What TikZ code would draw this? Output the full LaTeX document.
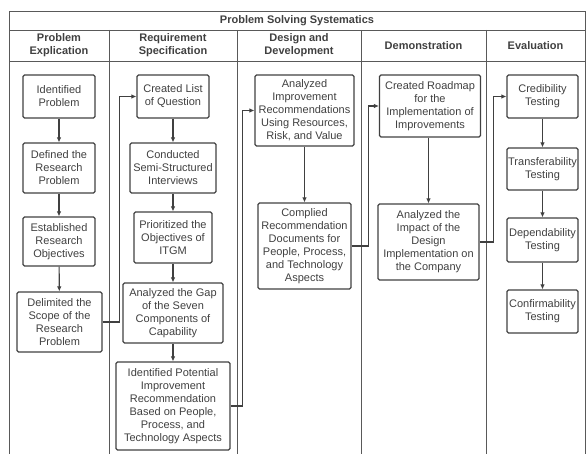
\documentclass[tikz,border=0pt]{standalone}
\usepackage{fontspec}
\setmainfont{Liberation Sans}
\usetikzlibrary{arrows.meta}
\begin{document}
\begin{tikzpicture}[
    x=1pt, y=-1pt,
    grid/.style = {draw=black!65, line width=0.9pt},
    head/.style = {align=center, text=black!75, font=\fontsize{11}{13}\selectfont\bfseries},
    box/.style = {draw=black!75, line width=1.1pt, rounded corners=1.5pt, align=center, inner sep=0pt, text=black!75, font=\fontsize{11}{13}\selectfont},
    arr/.style = {draw=black!75, line width=1.1pt, -{Latex[length=5pt,width=4.5pt]}}
  ]
  \useasboundingbox (0,0) rectangle (587,454);
  % table frame
  \draw[grid] (9,454) -- (9,11) -- (585,11) -- (585,454);
  \draw[grid] (9,30) -- (585,30);
  \draw[grid] (9,61) -- (585,61);
  \foreach \cx in {109,237,361,486}
    \draw[grid] (\cx,30) -- (\cx,454);
  % headers
  \node[head] (title) at (297,20.5) {Problem Solving Systematics};
  \node[head] (hexp) at (59,45.5) {Problem\\Explication};
  \node[head] (hreq) at (173,45.5) {Requirement\\Specification};
  \node[head] (hdes) at (299,45.5) {Design and\\Development};
  \node[head] (hdem) at (423.5,45.5) {Demonstration};
  \node[head] (heva) at (535.5,45.5) {Evaluation};
  % problem explication
  \node[box, minimum width=72pt, minimum height=43pt] (idp) at (59,96.5) {Identified\\Problem};
  \node[box, minimum width=72pt, minimum height=50pt] (def) at (59,168) {Defined the\\Research\\Problem};
  \node[box, minimum width=72pt, minimum height=49pt] (est) at (59,241.5) {Established\\Research\\Objectives};
  \node[box, minimum width=85pt, minimum height=60pt] (del) at (59.5,322) {Delimited the\\Scope of the\\Research\\Problem};
  % requirement specification
  \node[box, minimum width=72pt, minimum height=43pt] (lst) at (173,96.5) {Created List\\of Question};
  \node[box, minimum width=86pt, minimum height=50pt] (con) at (173,168) {Conducted\\Semi-Structured\\Interviews};
  \node[box, minimum width=78pt, minimum height=51pt] (pri) at (173,237.5) {Prioritized the\\Objectives of\\ITGM};
  \node[box, minimum width=100pt, minimum height=60pt] (gap) at (173,313) {Analyzed the Gap\\of the Seven\\Components of\\Capability};
  \node[box, minimum width=114pt, minimum height=88pt] (pot) at (173,406) {Identified Potential\\Improvement\\Recommendation\\Based on People,\\Process, and\\Technology Aspects};
  % design and development
  \node[box, minimum width=99pt, minimum height=71pt] (ana) at (304.5,110.5) {Analyzed\\Improvement\\Recommendations\\Using Resources,\\Risk, and Value};
  \node[box, minimum width=93pt, minimum height=86pt] (cmp) at (304.5,246) {Complied\\Recommendation\\Documents for\\People, Process,\\and Technology\\Aspects};
  % demonstration
  \node[box, minimum width=101pt, minimum height=62pt] (road) at (430,106) {Created Roadmap\\for the\\Implementation of\\Improvements};
  \node[box, minimum width=101pt, minimum height=76pt] (imp) at (428.5,242) {Analyzed the\\Impact of the\\Design\\Implementation on\\the Company};
  % evaluation
  \node[box, minimum width=71pt, minimum height=43pt] (cred) at (542.5,96.5) {Credibility\\Testing};
  \node[box, minimum width=71pt, minimum height=42pt] (tran) at (542.5,169) {Transferability\\Testing};
  \node[box, minimum width=71pt, minimum height=44pt] (dep) at (542.5,240) {Dependability\\Testing};
  \node[box, minimum width=71pt, minimum height=43pt] (conf) at (542.5,311.5) {Confirmability\\Testing};
  % flows inside the lanes
  \draw[arr] (idp) -- (def);
  \draw[arr] (def) -- (est);
  \draw[arr] (est) -- (del);
  \draw[arr] (lst) -- (con);
  \draw[arr] (con) -- (pri);
  \draw[arr] (pri) -- (gap);
  \draw[arr] (gap) -- (pot);
  \draw[arr] (ana) -- (cmp);
  \draw[arr] (road.south -| imp) -- (imp);
  \draw[arr] (cred) -- (tran);
  \draw[arr] (tran) -- (dep);
  \draw[arr] (dep) -- (conf);
  % flows between the lanes
  \draw[arr] (del.east) -- ++(17,0) |- (lst.west);
  \draw[arr] (pot.east) -- ++(12,0) |- (ana.west);
  \draw[arr] (cmp.east) -- ++(17,0) |- (road.west);
  \draw[arr] (imp.east) -- ++(14,0) |- (cred.west);
\end{tikzpicture}
\end{document}
